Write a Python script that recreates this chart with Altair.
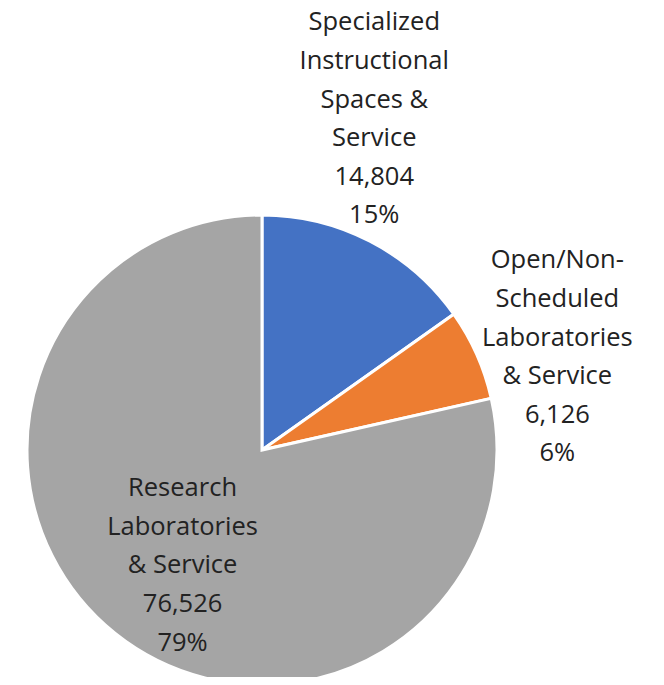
import altair as alt
import pandas as pd

categories = [
    "Specialized Instructional Spaces & Service",
    "Open/Non-Scheduled Laboratories & Service",
    "Research Laboratories & Service",
]
label_lines = [
    ["Specialized", "Instructional", "Spaces &", "Service", "14,804", "15%"],
    ["Open/Non-", "Scheduled", "Laboratories", "& Service", "6,126", "6%"],
    ["Research", "Laboratories", "& Service", "76,526", "79%"],
]
values = [14804, 6126, 76526]
colors = ["#4472C4", "#ED7D31", "#A5A5A5"]

df = pd.DataFrame({
    "category": categories,
    "value": values,
    "order": [0, 1, 2],
})
for i, lines in enumerate(label_lines):
    df[f"lab{i}"] = ["\n".join(lines) if j == i else "" for j in range(len(categories))]

CX, CY = 254, 442
LH = 38.6
base = alt.Chart(df).encode(
    theta=alt.Theta("value:Q", stack=True),
    order=alt.Order("order:Q"),
)

pie = base.mark_arc(outerRadius=235, stroke="white", strokeWidth=3).encode(
    color=alt.Color("category:N", scale=alt.Scale(domain=categories, range=colors), legend=None),
    x=alt.value(CX),
    y=alt.value(CY),
)

text_style = dict(fontSize=25.5, font="Open Sans", color="#222222",
                  align="center", baseline="middle", lineHeight=LH)
placements = [
    dict(radius=375, dx=-60, dy=2),
    dict(radius=320, dx=3, dy=37),
    dict(radius=140, dx=8, dy=6),
]
layers = [pie]
for i, p in enumerate(placements):
    n = len(label_lines[i])
    p = dict(p)
    p["dy"] = p["dy"] - (n - 1) / 2 * LH
    layers.append(
        base.mark_text(lineBreak="\n", **text_style, **p).encode(
            text=alt.Text(f"lab{i}:N"),
            x=alt.value(CX),
            y=alt.value(CY),
        )
    )

chart = alt.layer(*layers).properties(
    width=648, height=669, padding=0,
    autosize=alt.AutoSizeParams(type="none"),
).configure_view(stroke=None)
chart.save("out.html", embed_options={"renderer": "svg", "actions": False})
